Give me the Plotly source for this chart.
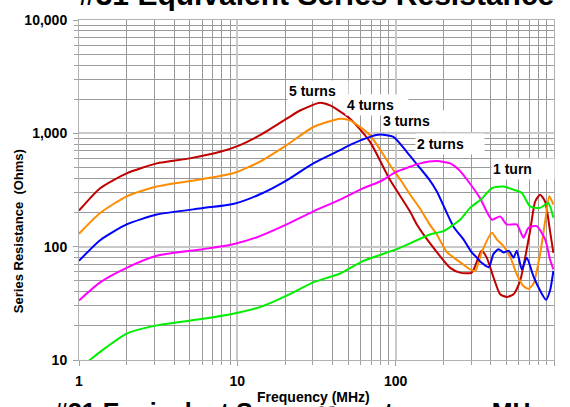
import plotly.graph_objects as go

# ---- data (frequency in MHz, series resistance in ohms) ----
f5 = [1, 1.36, 2.0, 3.1, 5.0, 7.8, 10.4, 13.9, 20.5, 24.9, 33.3, 38.5, 51.5, 68.9, 91, 123, 136, 173, 221, 255, 302, 349, 376, 414, 457, 503, 555, 611, 706, 760, 817, 879, 944, 991]
r5 = [208, 328, 444, 543, 601, 687, 787, 962, 1346, 1590, 1858, 1762, 1346, 841, 400, 205, 157, 98, 65, 59, 59, 92, 80, 54, 38, 36, 38, 50, 137, 250, 287, 250, 137, 88]

f4 = [1, 1.36, 2.0, 3.1, 6.1, 9.4, 13.9, 20.5, 30.2, 44.6, 51.5, 68.9, 92, 109, 123, 143, 165, 182, 210, 255, 295, 318, 349, 405, 435, 480, 531, 582, 641, 690, 741, 817, 879, 935, 991]
r4 = [130, 198, 278, 340, 396, 444, 562, 787, 1137, 1346, 1301, 962, 526, 376, 290, 215, 155, 128, 90, 73, 63, 61, 89, 133, 116, 101, 80, 57, 45, 42.5, 47, 86, 167, 278, 235]

f3 = [1, 1.36, 2, 3.1, 6.1, 9.4, 13.9, 20.5, 30.2, 44.6, 51.5, 68.9, 79.6, 96.8, 117.5, 143, 161, 182, 232, 268, 302, 318, 349, 388, 414, 446, 480, 518, 555, 582, 626, 673, 741, 817, 891, 944, 991]
r3 = [75, 114, 157, 192, 219, 238, 290, 385, 543, 710, 790, 931, 975, 931, 687, 490, 400, 307, 150, 116, 89, 83, 72, 66, 86, 95, 89, 92, 80, 92, 63, 80, 55, 41, 34, 41, 61]

f2 = [1, 1.36, 2, 3.1, 6.1, 9.4, 13.9, 20.5, 30.2, 44.6, 62.5, 79.6, 101.6, 143, 182, 221, 250, 288, 341, 405, 457, 503, 582, 641, 690, 778, 879, 944, 991]
r2 = [33.5, 48.4, 65, 83, 95, 105, 124, 157, 205, 260, 328, 376, 459, 543, 569, 543, 480, 376, 268, 173, 185, 157, 157, 120, 147, 152, 116, 77, 63]

f1 = [1.0, 1.17, 1.36, 2, 3.1, 6.1, 9.4, 13.9, 20.5, 30.2, 44.6, 62.5, 101.6, 165, 200, 255, 295, 350, 405, 480, 555, 626, 706, 817, 920, 991]
r1 = [8.6, 10, 11.8, 17.1, 20.2, 23.1, 25.6, 29.3, 37, 48.4, 58, 75, 95, 128, 137, 173, 220, 265, 329, 340, 318, 298, 227, 220, 243, 180]

x_tickvals = [1, 10, 100, 1000]
x_ticktext = ["1", "10", "100", "1,000"]
y_tickvals = [10, 100, 1000, 10000]
y_ticktext = ["10", "100", "1,000", "10,000"]

series = [
    ("5 turns", f5, r5, "#C00000"),
    ("4 turns", f4, r4, "#FF8C00"),
    ("3 turns", f3, r3, "#0000FF"),
    ("2 turns", f2, r2, "#FF00FF"),
    ("1 turn", f1, r1, "#00EE00"),
]

FONT = "Liberation Sans, Arial, sans-serif"

fig = go.Figure()
for name, fx, ry, col in series:
    fig.add_trace(go.Scatter(x=fx, y=ry, mode="lines", name=name,
                             line=dict(color=col, width=2, shape="spline", smoothing=0.6),
                             showlegend=False))

# plot area on screen: x 79..554, y 17..360 (page body margin removed below)
W, H = 570, 407
L, T = 79, 17
PW, PH = 475, 343
R = W - L - PW
B = H - T - PH

def px(x):  # screen x -> paper
    return (x - 79) / PW

def py(y):  # screen y -> paper
    return (360 - y) / PH

axis_common = dict(
    type="log",
    showline=True, mirror=True, linecolor="#b0b0b0", linewidth=1,
    showgrid=True, gridcolor="#c8c8c8", gridwidth=2,
    ticks="outside", ticklen=5, tickcolor="#a0a0a0",
    tickfont=dict(family=FONT, size=14, color="black", weight="bold"),
    minor=dict(dtick="D1", showgrid=True, gridcolor="#9a9a9a", gridwidth=1,
               ticks="outside", ticklen=4, tickcolor="#a0a0a0"),
    zeroline=False,
)

fig.update_xaxes(range=[0, 3], tickvals=x_tickvals, ticktext=x_ticktext,
                 ticklabelstandoff=3, **axis_common)
fig.update_yaxes(range=[1, 4], tickvals=y_tickvals, ticktext=y_ticktext,
                 ticklabelstandoff=3, **axis_common)

annots = []
labels = [
    ("5 turns", 287, 89, 58),
    ("4 turns", 345, 103, 60),
    ("3 turns", 381, 119, 62),
    ("2 turns", 415, 142, 66),
    ("1 turn", 491, 167, 60),
]
for txt, x0, yc, w in labels:
    annots.append(dict(text=txt, xref="paper", yref="paper", x=px(x0), y=py(yc),
                       xanchor="left", yanchor="middle", showarrow=False,
                       bgcolor="white", width=w, height=18, align="left",
                       font=dict(family=FONT, size=14, color="black", weight="bold")))

# top title (cut at top)
annots.append(dict(text="#31 Equivalent Series Resistance", xref="paper", yref="paper",
                   x=px(316), y=py(10), xanchor="center", yanchor="bottom", showarrow=False,
                   font=dict(family=FONT, size=30, color="black", weight="bold")))
# bottom title (cut at bottom)
annots.append(dict(text="#31 Equivalent Series Resistance vs MHz", xref="paper", yref="paper",
                   x=px(298), y=py(396), xanchor="center", yanchor="top", showarrow=False,
                   font=dict(family=FONT, size=25, color="black", weight="bold")))
# x axis title
annots.append(dict(text="Frequency (MHz)", xref="paper", yref="paper",
                   x=px(313), y=py(397), xanchor="center", yanchor="middle", showarrow=False,
                   bgcolor="white",
                   font=dict(family=FONT, size=14, color="black", weight="bold")))
# y axis title
annots.append(dict(text="Series Resistance  (Ohms)", xref="paper", yref="paper",
                   x=px(18), y=py(230), xanchor="center", yanchor="middle", showarrow=False,
                   textangle=-90,
                   font=dict(family=FONT, size=13, color="black", weight="bold")))

fig.update_layout(
    width=W, height=H,
    margin=dict(l=L, r=R, t=T, b=B),
    paper_bgcolor="white", plot_bgcolor="white",
    annotations=annots,
)

fig.write_html("out.html", config={"displayModeBar": False},
               post_script="document.body.style.margin='0';")
